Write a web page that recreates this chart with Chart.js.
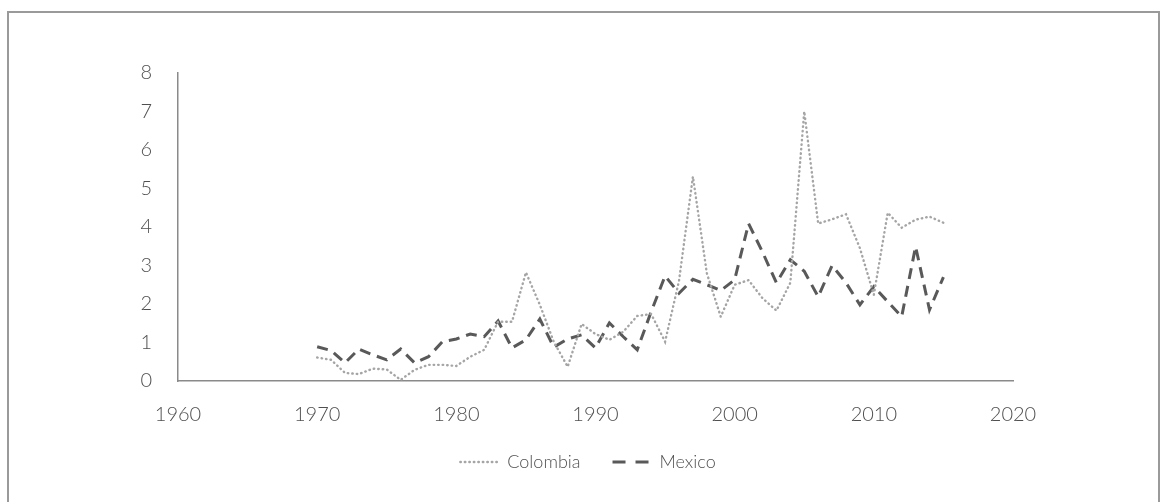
<!DOCTYPE html>
<html lang="en">
<head>
    <meta charset="UTF-8">
    <title>Colombia vs Mexico</title>
    <script src="https://cdn.jsdelivr.net/npm/chart.js"></script>
    <style>
        body {
            margin: 0;
            padding: 0;
            background: #fff;
            font-family: Lato, sans-serif;
        }
        #marco {
            position: absolute;
            left: 7px;
            top: 11px;
            width: 1153px;
            height: 500px;
            border: 2px solid #9a9a9a;
            box-sizing: border-box;
        }
        #contenedor {
            position: absolute;
            left: 0;
            top: 0;
            width: 1167px;
            height: 502px;
        }
    </style>
</head>
<body>
    <div id="marco"></div>
    <div id="contenedor"><canvas id="grafico" width="1167" height="502"></canvas></div>

    <script>
        const anios = [1970, 1971, 1972, 1973, 1974, 1975, 1976, 1977, 1978, 1979,
                       1980, 1981, 1982, 1983, 1984, 1985, 1986, 1987, 1988, 1989,
                       1990, 1991, 1992, 1993, 1994, 1995, 1996, 1997, 1998, 1999,
                       2000, 2001, 2002, 2003, 2004, 2005, 2006, 2007, 2008, 2009,
                       2010, 2011, 2012, 2013, 2014, 2015];

        const colombia = [0.61, 0.55, 0.21, 0.18, 0.32, 0.30, 0.03, 0.29, 0.42, 0.42,
                          0.39, 0.63, 0.81, 1.54, 1.54, 2.82, 1.98, 1.02, 0.37, 1.48,
                          1.22, 1.07, 1.28, 1.69, 1.74, 1.02, 2.60, 5.31, 2.80, 1.67,
                          2.50, 2.62, 2.15, 1.83, 2.55, 7.00, 4.09, 4.20, 4.33, 3.45,
                          2.24, 4.37, 3.98, 4.19, 4.27, 4.11];

        const mexico = [0.89, 0.79, 0.47, 0.83, 0.68, 0.55, 0.83, 0.47, 0.63, 1.02,
                        1.09, 1.22, 1.15, 1.56, 0.86, 1.07, 1.61, 0.88, 1.09, 1.20,
                        0.86, 1.51, 1.15, 0.81, 1.80, 2.73, 2.28, 2.64, 2.50, 2.35,
                        2.63, 4.09, 3.35, 2.55, 3.15, 2.85, 2.19, 3.00, 2.55, 1.98,
                        2.45, 2.06, 1.67, 3.49, 1.85, 2.70];

        const ejeX = [1960, 2020];
        const ejeY = [0, 8];

        const grisTexto = "#505050";
        const grisEje = "#8a8a8a";

        function puntos(valores) {
            return anios.map((a, i) => ({ x: a, y: valores[i] }));
        }

        // muestras de la leyenda con el mismo trazo que la serie
        function etiquetasLeyenda(chart) {
            return chart.data.datasets.map((ds, i) => ({
                text: ds.label,
                datasetIndex: i,
                fillStyle: "transparent",
                strokeStyle: ds.borderColor,
                lineWidth: ds.borderWidth,
                lineDash: ds.muestraDash,
                lineCap: ds.borderCapStyle || "butt",
                pointStyle: "line",
                fontColor: grisTexto,
                hidden: false
            }));
        }

        const ctx = document.getElementById("grafico").getContext("2d");
        new Chart(ctx, {
            type: "line",
            data: {
                datasets: [
                    {
                        label: "Colombia",
                        data: puntos(colombia),
                        borderColor: "#a5a5a5",
                        backgroundColor: "transparent",
                        borderWidth: 2.4,
                        borderDash: [0.5, 4],
                        borderCapStyle: "round",
                        muestraDash: [0.5, 4],
                        pointRadius: 0,
                        tension: 0
                    },
                    {
                        label: "Mexico",
                        data: puntos(mexico),
                        borderColor: "#595959",
                        backgroundColor: "transparent",
                        borderWidth: 3,
                        borderDash: [11, 7],
                        muestraDash: [13, 10],
                        pointRadius: 0,
                        tension: 0
                    }
                ]
            },
            options: {
                responsive: false,
                animation: false,
                layout: { padding: { left: 106, right: 97, top: 73, bottom: 21 } },
                plugins: {
                    tooltip: { enabled: false },
                    legend: {
                        position: "bottom",
                        labels: {
                            usePointStyle: true,
                            pointStyle: "line",
                            pointStyleWidth: 38,
                            padding: 32,
                            color: grisTexto,
                            font: { family: "Lato", size: 18, weight: "300" },
                            generateLabels: etiquetasLeyenda
                        }
                    }
                },
                scales: {
                    x: {
                        type: "linear",
                        min: ejeX[0],
                        max: ejeX[1],
                        ticks: {
                            stepSize: 10,
                            color: grisTexto,
                            padding: 14,
                            font: { family: "Lato", size: 20, weight: "300" },
                            callback: v => String(v)
                        },
                        grid: { display: false },
                        border: { display: true, color: grisEje, width: 1.5 },
                        afterFit: eje => { eje.height = 40; }
                    },
                    y: {
                        position: "left",
                        min: ejeY[0],
                        max: ejeY[1],
                        ticks: {
                            stepSize: 1,
                            color: grisTexto,
                            padding: 18,
                            font: { family: "Lato", size: 20, weight: "300" }
                        },
                        grid: { display: false },
                        border: { display: true, color: grisEje, width: 1.5 },
                        afterFit: eje => { eje.width = 72; }
                    },
                    derecha: {
                        position: "right",
                        min: ejeY[0],
                        max: ejeY[1],
                        ticks: { display: false },
                        grid: { display: false },
                        border: { display: false },
                        afterFit: eje => { eje.width = 57; }
                    }
                }
            }
        });
    </script>
</body>
</html>
